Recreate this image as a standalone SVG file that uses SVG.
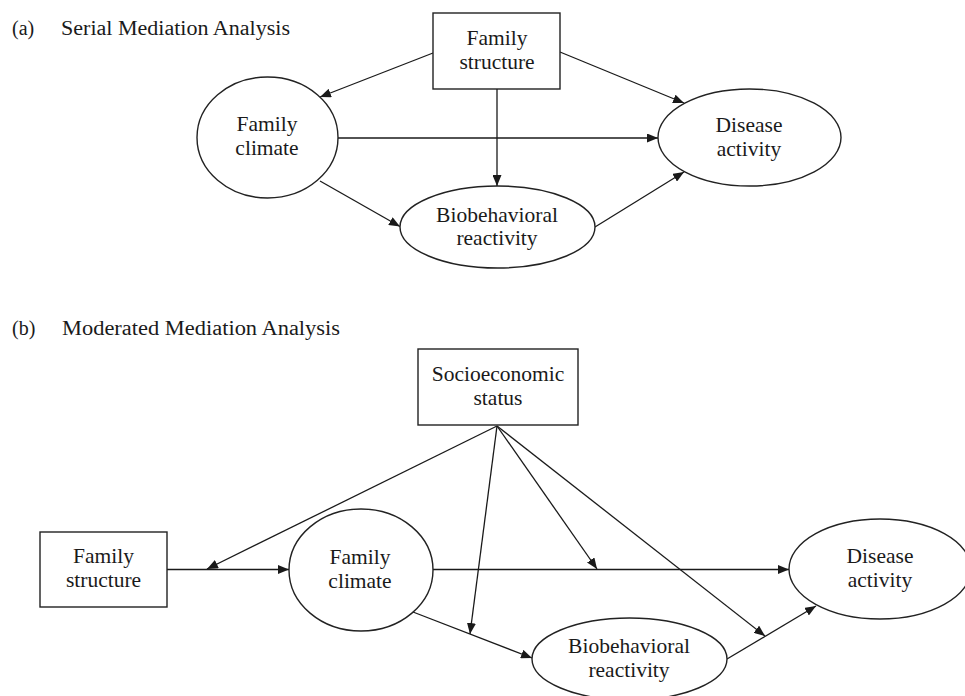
<svg xmlns="http://www.w3.org/2000/svg" width="965" height="696" viewBox="0 0 965 696">
<style>
  text { font-family: "Liberation Serif", "Times New Roman", serif; fill: #1a1a1a; }
  .title { font-size: 20px; }
  .lbl { font-size: 21.5px; text-anchor: middle; }
  .shape { fill: #ffffff; stroke: #222222; stroke-width: 1.4; }
  .conn line { stroke: #1a1a1a; stroke-width: 1.3; fill: none; }
  .arr { marker-end: url(#ah); }
</style>
<defs>
  <marker id="ah" markerUnits="userSpaceOnUse" markerWidth="11" markerHeight="9" refX="11" refY="4.5" orient="auto">
    <path d="M0,0 L11,4.5 L0,9 z" fill="#1a1a1a"/>
  </marker>
</defs>
<rect width="965" height="696" fill="#ffffff"/>

<!-- Panel (a) -->
<g id="title-a">
  <text class="title" x="12" y="35">(a)</text>
  <text class="title" x="61" y="35" textLength="229" lengthAdjust="spacingAndGlyphs">Serial Mediation Analysis</text>
</g>

<g class="conn" id="connectors-a">
  <line class="arr" x1="433" y1="53" x2="320" y2="97"/>
  <line class="arr" x1="560" y1="52" x2="684" y2="103"/>
  <line class="arr" x1="497" y1="89" x2="497" y2="186"/>
  <line class="arr" x1="338" y1="138" x2="658" y2="138"/>
  <line class="arr" x1="320" y1="181" x2="400" y2="226.5"/>
  <line class="arr" x1="595" y1="227" x2="684" y2="172"/>
</g>

<g id="a-family-structure">
  <rect class="shape" x="433" y="13" width="127" height="76"/>
  <text class="lbl" x="497" y="45">Family</text>
  <text class="lbl" x="497" y="69">structure</text>
</g>
<g id="a-family-climate">
  <ellipse class="shape" cx="267.5" cy="137.5" rx="70.5" ry="60.5"/>
  <text class="lbl" x="267" y="131">Family</text>
  <text class="lbl" x="267" y="155">climate</text>
</g>
<g id="a-disease-activity">
  <ellipse class="shape" cx="749.5" cy="137.5" rx="91.5" ry="48.5"/>
  <text class="lbl" x="749" y="132">Disease</text>
  <text class="lbl" x="749" y="156">activity</text>
</g>
<g id="a-biobehavioral-reactivity">
  <ellipse class="shape" cx="497.5" cy="227" rx="97.5" ry="41"/>
  <text class="lbl" x="497" y="222">Biobehavioral</text>
  <text class="lbl" x="497" y="245">reactivity</text>
</g>

<!-- Panel (b) -->
<g id="title-b">
  <text class="title" x="12" y="335">(b)</text>
  <text class="title" x="62" y="335" textLength="278" lengthAdjust="spacingAndGlyphs">Moderated Mediation Analysis</text>
</g>

<g class="conn" id="connectors-b">
  <line class="arr" x1="167" y1="569.5" x2="289" y2="569.5"/>
  <line class="arr" x1="497" y1="426" x2="207" y2="569"/>
  <line class="arr" x1="497" y1="426" x2="470" y2="634"/>
  <line class="arr" x1="497" y1="426" x2="597" y2="569"/>
  <line class="arr" x1="497" y1="426" x2="765" y2="636"/>
  <line class="arr" x1="433" y1="569.5" x2="789" y2="569.5"/>
  <line class="arr" x1="413" y1="612" x2="532" y2="658"/>
  <line class="arr" x1="727" y1="659" x2="816" y2="606"/>
</g>

<g id="b-ses">
  <rect class="shape" x="418" y="349" width="160" height="76"/>
  <text class="lbl" x="498" y="381">Socioeconomic</text>
  <text class="lbl" x="498" y="405">status</text>
</g>
<g id="b-family-structure">
  <rect class="shape" x="40" y="532" width="127" height="75"/>
  <text class="lbl" x="103.5" y="563">Family</text>
  <text class="lbl" x="103.5" y="587">structure</text>
</g>
<g id="b-family-climate">
  <ellipse class="shape" cx="361" cy="570" rx="72" ry="61"/>
  <text class="lbl" x="360" y="564">Family</text>
  <text class="lbl" x="360" y="588">climate</text>
</g>
<g id="b-disease-activity">
  <ellipse class="shape" cx="880" cy="569" rx="91" ry="50"/>
  <text class="lbl" x="880" y="563">Disease</text>
  <text class="lbl" x="880" y="587">activity</text>
</g>
<g id="b-biobehavioral-reactivity">
  <ellipse class="shape" cx="629.5" cy="659" rx="97.5" ry="41"/>
  <text class="lbl" x="629" y="653">Biobehavioral</text>
  <text class="lbl" x="629" y="677">reactivity</text>
</g>
</svg>
